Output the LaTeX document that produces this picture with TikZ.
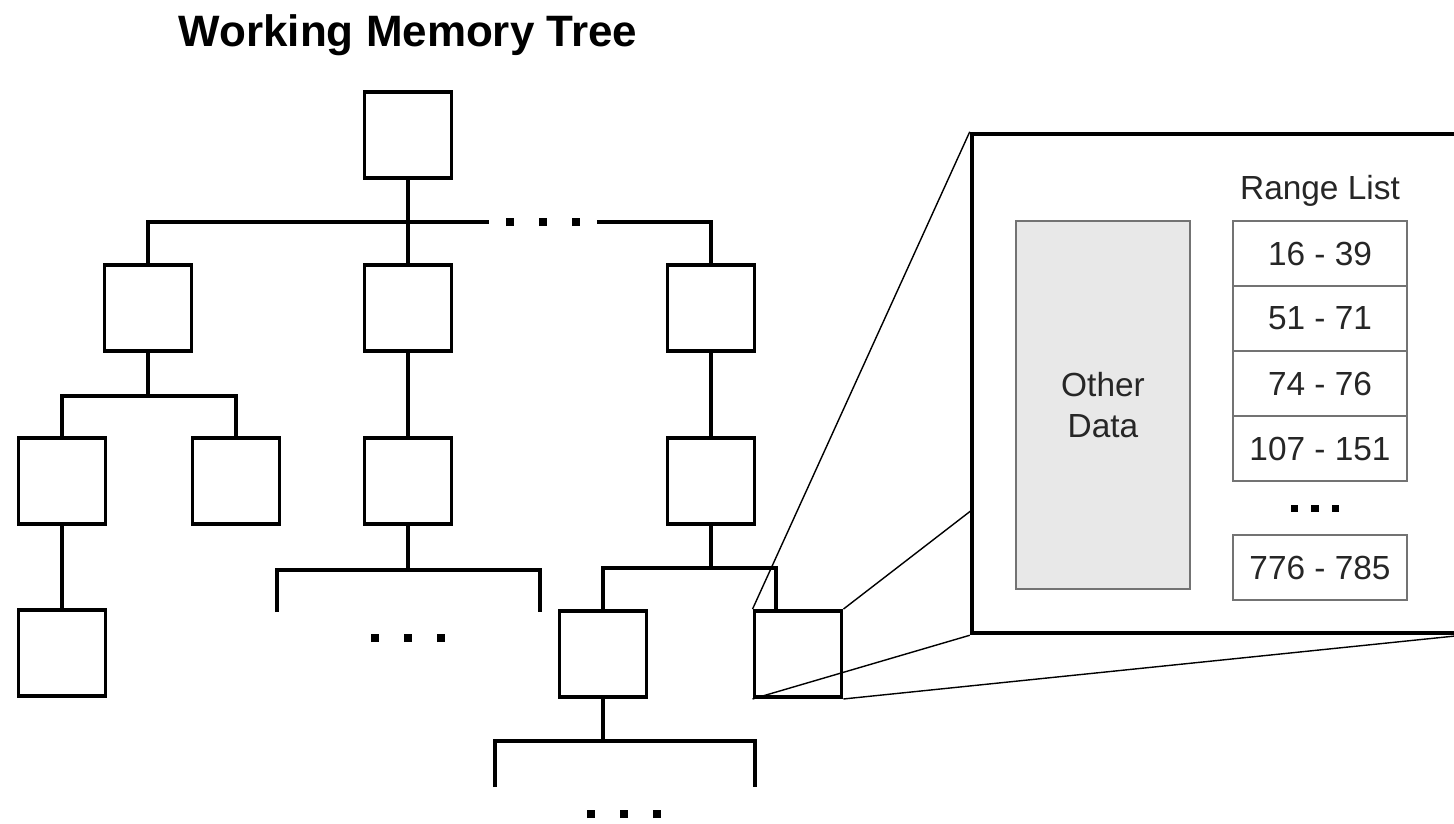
\documentclass[tikz,border=0pt]{standalone}
\usepackage{fontspec}
\setmainfont{Liberation Sans}
\usetikzlibrary{positioning, backgrounds}

\newcommand{\tridots}[2]{\rule{#1}{#1}\hspace{#2}\rule{#1}{#1}\hspace{#2}\rule{#1}{#1}}

\begin{document}
\begin{tikzpicture}[x=0.01cm, y=-0.01cm,
    treebox/.style = {draw, line width=1.1pt, minimum width=0.87cm, minimum height=0.86cm, inner sep=0pt},
    bus/.style = {line width=1.1pt},
    dotgap/.style = {inner xsep=4.5pt, inner ysep=0pt},
    zoomline/.style = {line width=0.4pt},
    rangebox/.style = {draw=black!55, line width=0.6pt, minimum width=1.74cm, minimum height=0.65cm, inner sep=0pt, outer sep=0pt, text=black!85, font=\fontsize{9.5}{11.4}\selectfont}]
  \useasboundingbox (0,0) rectangle (1454,823);

  \node[anchor=base, font=\bfseries\fontsize{12.5}{15}\selectfont] (title) at (408,46) {Working Memory Tree};

  % tree
  \node[treebox] (root) at (408,135) {};
  \node[treebox] (a1) at (148,308) {};
  \node[treebox] (b1) at (408,308) {};
  \node[treebox] (c1) at (711,308) {};
  \node[treebox] (a2) at (62,481) {};
  \node[treebox] (a3) at (236,481) {};
  \node[treebox] (b2) at (408,481) {};
  \node[treebox] (c2) at (711,481) {};
  \node[treebox] (a4) at (62,653) {};
  \node[treebox] (c3) at (603,654) {};
  \node[treebox] (c4) at (798,654) {};

  \node[dotgap] (d1) at (543,222) {\tridots{2.4pt}{7pt}};
  \node[dotgap] (d2) at (408,638) {\tridots{2.4pt}{7pt}};
  \node[dotgap] (d3) at (624,814) {\tridots{2.4pt}{7pt}};

  \coordinate (ja) at (148,396);
  \coordinate (jb) at (408,570);
  \coordinate (jc) at (711,568);
  \coordinate (jd) at (603,741);
  \coordinate (sb1) at (277,612);
  \coordinate (sb2) at (540,612);
  \coordinate (sd1) at (495,787);
  \coordinate (sd2) at (755,787);

  \draw[bus] (root) -- (b1);
  \draw[bus] (a1.north) |- (d1.west);
  \draw[bus] (d1.east) -| (c1.north);
  \draw[bus] (a1.south) -- (ja);
  \draw[bus] (a2.north) |- (ja) -| (a3.north);
  \draw[bus] (a2) -- (a4);
  \draw[bus] (b1) -- (b2);
  \draw[bus] (b2.south) -- (jb);
  \draw[bus] (sb1) |- (jb) -| (sb2);
  \draw[bus] (c1) -- (c2);
  \draw[bus] (c2.south) -- (jc);
  \draw[bus] (c3.north) |- (jc) -| ([xshift=-0.22cm]c4.north);
  \draw[bus] (c3.south) -- (jd);
  \draw[bus] (sd1) |- (jd) -| (sd2);

  % zoomed node
  \node[draw, fill=white, line width=1.2pt, minimum width=4.88cm, minimum height=4.99cm] (zoom) at (1216,383.5) {};
  \begin{scope}[on background layer]
    \draw[zoomline] (c4.north west) -- (zoom.north west);
    \draw[zoomline] (c4.north east) -- (zoom.north east);
    \draw[zoomline] (c4.south west) -- (zoom.south west);
    \draw[zoomline] (c4.south east) -- (zoom.south east);
  \end{scope}

  \node[draw=black!55, fill=black!9, line width=0.6pt, minimum width=1.74cm, minimum height=3.68cm, align=center, text=black!85, font=\fontsize{9.5}{11.4}\selectfont] (other) at (1103,405) {Other\\Data};
  \node[anchor=base, text=black!85, font=\fontsize{9.5}{11.4}\selectfont] (rlist) at (1320,199) {Range List};
  \node[rangebox] (r1) at (1320,253.5) {16 - 39};
  \node[rangebox, below=0pt of r1] (r2) {51 - 71};
  \node[rangebox, below=0pt of r2] (r3) {74 - 76};
  \node[rangebox, below=0pt of r3] (r4) {107 - 151};
  \node[dotgap, inner xsep=0pt] (d4) at (1315,508) {\tridots{2pt}{3.7pt}};
  \node[rangebox] (r5) at (1320,567.5) {776 - 785};
\end{tikzpicture}
\end{document}
